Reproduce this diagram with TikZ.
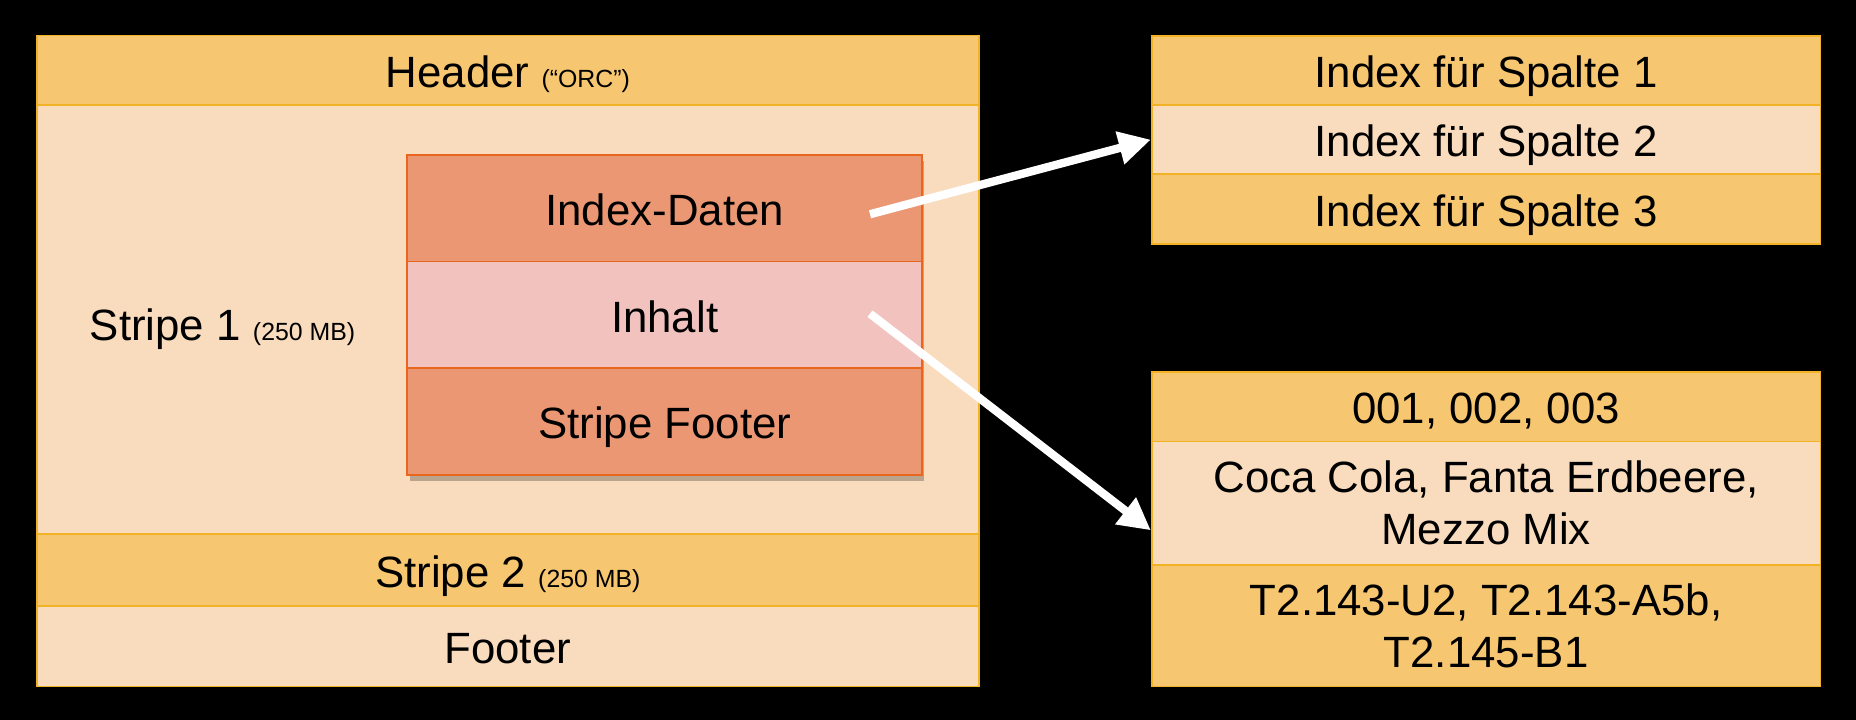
\documentclass[tikz,border=0pt]{standalone}
\usepackage{fontspec}
\setmainfont{Liberation Sans}
\usetikzlibrary{arrows.meta,shadows}
\definecolor{gold}{HTML}{F6C770}
\definecolor{peach}{HTML}{F9DCBD}
\definecolor{salmon}{HTML}{EC9773}
\definecolor{rose}{HTML}{F2C3BE}
\definecolor{goldline}{HTML}{F1B325}
\definecolor{orangeline}{HTML}{E8661E}
\newcommand{\rowfont}{\fontsize{37}{44}\selectfont}
\newcommand{\notefont}{\fontsize{21}{25}\selectfont}
\begin{document}
\begin{tikzpicture}[x=1pt, y=-1pt,
		row/.style={draw=goldline, line width=1.5pt, rectangle, inner sep=0pt, align=center, font=\rowfont},
		oneline/.style={text height=37pt, text depth=8pt},
		goldrow/.style={row, fill=gold},
		peachrow/.style={row, fill=peach},
		innerrow/.style={row, oneline, draw=orangeline, minimum width=435pt, minimum height=90pt},
		pointer/.style={white, line width=7pt, -{Triangle[length=27pt, width=27pt]}}]
	\fill[black] (0,0) rectangle (1568,608);
	\useasboundingbox (0,0) rectangle (1568,608);
	% ORC file
	\node[goldrow, oneline, minimum width=796pt, minimum height=59pt] (Header)at(429, 59.5) {Header {\notefont (“ORC”)}};
	\node[peachrow, minimum width=796pt, minimum height=362pt] (Stripe1)at(429, 270) {};
	\node[goldrow, oneline, minimum width=796pt, minimum height=61pt] (Stripe2)at(429, 481.5) {Stripe 2 {\notefont (250 MB)}};
	\node[peachrow, oneline, minimum width=796pt, minimum height=68pt] (Footer)at(429, 546) {Footer};
	\node[font=\rowfont, oneline] (S1label)at(188, 273) {Stripe 1 {\notefont (250 MB)}};
	% stripe
	\fill[black, opacity=0.25] (346, 136) rectangle (781, 406);
	\node[innerrow, fill=salmon] (Idx)at(561.5, 176) {Index-Daten};
	\node[innerrow, fill=rose] (Inh)at(561.5, 266) {Inhalt};
	\node[innerrow, fill=salmon] (SFooter)at(561.5, 356) {Stripe Footer};
	% index
	\node[goldrow, oneline, minimum width=565pt, minimum height=58.7pt] (Col1)at(1255.5, 59.5) {Index für Spalte 1};
	\node[peachrow, oneline, minimum width=565pt, minimum height=58.7pt] (Col2)at(1255.5, 118) {Index für Spalte 2};
	\node[goldrow, oneline, minimum width=565pt, minimum height=58.7pt] (Col3)at(1255.5, 176.5) {Index für Spalte 3};
	% content
	\node[goldrow, oneline, minimum width=565pt, minimum height=59pt] (Ids)at(1255.5, 343.5) {001, 002, 003};
	\node[peachrow, minimum width=565pt, minimum height=104pt] (Names)at(1255.5, 425) {Coca Cola, Fanta Erdbeere,\\Mezzo Mix};
	\node[goldrow, minimum width=565pt, minimum height=103pt] (Codes)at(1255.5, 528.5) {T2.143-U2, T2.143-A5b,\\T2.145-B1};
	\coordinate (IdxOut)at(735, 181);
	\coordinate (InhOut)at(735, 265);
	\draw[pointer] (IdxOut) -- (Col2.west);
	\draw[pointer] (InhOut) -- ([yshift=-23pt]Names.west);
\end{tikzpicture}
\end{document}
